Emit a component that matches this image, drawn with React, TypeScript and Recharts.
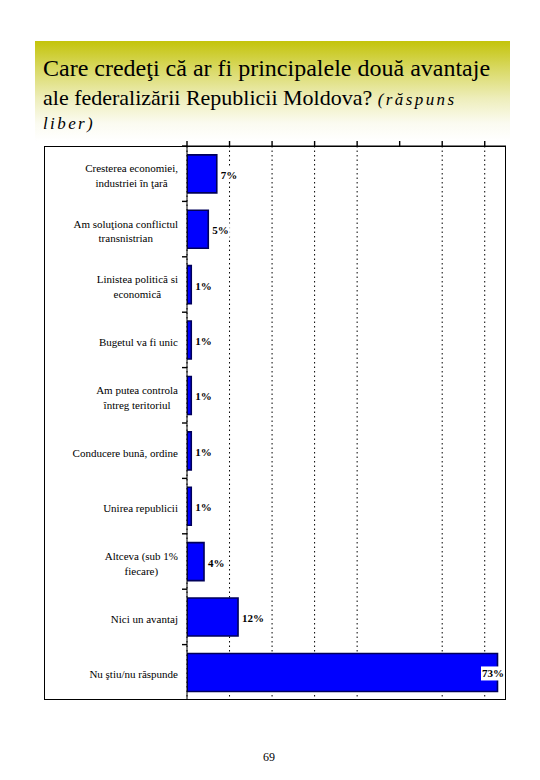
import { Bar, BarChart, CartesianGrid, LabelList, XAxis, YAxis } from 'recharts';

// Answers, top to bottom as in the survey table. "\n" marks the line break.
const CATEGORIES = [
  'Cresterea economiei,\nindustriei în ţară',
  'Am soluţiona conflictul\ntransnistrian',
  'Linistea politică si\neconomică',
  'Bugetul va fi unic',
  'Am putea controla\nîntreg teritoriul',
  'Conducere bună, ordine',
  'Unirea republicii',
  'Altceva (sub 1%\nfiecare)',
  'Nici un avantaj',
  'Nu ştiu/nu răspunde',
];
const VALUES = [7, 5, 1, 1, 1, 1, 1, 4, 12, 73];

const X_DOMAIN = [0, 75];
const X_TICKS = [0, 10, 20, 30, 40, 50, 60, 70];
// the 50% gridline is missing in the original scan
const GRID_TICKS = [10, 20, 30, 40, 60, 70];

const rows = CATEGORIES.map((name, i) => ({ name, value: VALUES[i] }));

const SERIF = '"Liberation Serif", "Times New Roman", serif';
const TICK_FONT = `11px ${SERIF}`;
const LABEL_FONT = `bold 11px ${SERIF}`;

const CHART_W = 462;
const CHART_H = 560;
const TOP_AXIS_H = 6;
const PLOT_RIGHT = CHART_W;
const HALF_BAND = (CHART_H - TOP_AXIS_H) / CATEGORIES.length / 2;

let ctx: CanvasRenderingContext2D | null = null;
function measure(text: string, font: string) {
  if (!ctx) ctx = document.createElement('canvas').getContext('2d');
  if (!ctx) return text.length * 5.5;
  ctx.font = font;
  return ctx.measureText(text).width;
}

function CategoryTick(props: any) {
  const { x, y, payload } = props;
  const lines = String(payload.value).split('\n');
  const blockW = Math.max(...lines.map((l) => measure(l, TICK_FONT)));
  const cx = x - 9 - blockW / 2;
  const lh = 14.5;
  const startY = y + 2 - ((lines.length - 1) * lh) / 2;
  const by = y - HALF_BAND;
  return (
    <g>
      <line x1={x - 5} x2={x} y1={by} y2={by} stroke="#000" strokeWidth={1.4} />
      <text textAnchor="middle" fontFamily={SERIF} fontSize={11} fill="#000">
        {lines.map((l, i) => (
          <tspan key={i} x={cx} y={startY + i * lh} dominantBaseline="central">
            {l}
          </tspan>
        ))}
      </text>
    </g>
  );
}

// top axis: tick marks only, drawn upward from the plot's top edge
function TopTick(props: any) {
  const { x, y } = props;
  const base = y + 6; // y is tickSize + tickMargin above the axis line
  return <line x1={x} x2={x} y1={base} y2={base - 5} stroke="#000" strokeWidth={1.4} />;
}

function ValueLabel(props: any) {
  const vb = props.viewBox ?? props;
  const { x, y, width, height } = vb;
  const text = `${props.value}%`;
  const w = measure(text, LABEL_FONT);
  const tx = Math.min(x + width + 4, PLOT_RIGHT - w - 2);
  const cy = y + height / 2 + 1;
  return (
    <g>
      <rect x={tx - 1} y={cy - 7} width={w + 2} height={14} fill="#fff" />
      <text
        x={tx}
        y={cy}
        dominantBaseline="central"
        fontFamily={SERIF}
        fontSize={11}
        fontWeight="bold"
        fill="#000"
      >
        {text}
      </text>
    </g>
  );
}

export default function App() {
  return (
    <div
      style={{
        position: 'absolute',
        left: 0,
        top: 0,
        width: 540,
        height: 780,
        background: '#fff',
        fontFamily: SERIF,
        color: '#000',
      }}
    >
      <div
        style={{
          position: 'absolute',
          left: 35,
          top: 41,
          width: 475,
          height: 100,
          boxSizing: 'border-box',
          padding: '13px 0 0 8px',
          background:
            'linear-gradient(180deg, #c4c40a 0%, #d9d964 28%, #eeeebc 58%, #fbfbf0 82%, #ffffff 100%)',
        }}
      >
        <div style={{ fontSize: 24, lineHeight: '29px', whiteSpace: 'nowrap' }}>
          Care credeţi că ar fi principalele două avantaje
        </div>
        <div style={{ fontSize: 22, lineHeight: '29px', whiteSpace: 'nowrap' }}>
          ale federalizării Republicii Moldova?{' '}
          <span style={{ fontSize: 17, fontStyle: 'italic', letterSpacing: 2.4 }}>(răspuns</span>
        </div>
        <div style={{ fontSize: 17, lineHeight: '19px', fontStyle: 'italic', letterSpacing: 2.4 }}>
          liber)
        </div>
      </div>

      <div
        style={{
          position: 'absolute',
          left: 44,
          top: 146,
          width: 462,
          height: 554,
          boxSizing: 'border-box',
          border: '1px solid #000',
        }}
      />

      <div style={{ position: 'absolute', left: 44, top: 140, width: CHART_W, height: CHART_H }}>
        <BarChart
          width={CHART_W}
          height={CHART_H}
          data={rows}
          layout="vertical"
          margin={{ top: 0, right: 0, bottom: 0, left: 0 }}
          barCategoryGap="16%"
        >
          <CartesianGrid
            xAxisId="grid"
            horizontal={false}
            stroke="#000"
            strokeDasharray="1.5 3"
          />
          <XAxis
            xAxisId="top"
            type="number"
            orientation="top"
            domain={X_DOMAIN}
            ticks={X_TICKS}
            height={TOP_AXIS_H}
            tick={<TopTick />}
            tickSize={4}
            tickMargin={2}
            tickLine={false}
            axisLine={{ stroke: '#000' }}
            allowDataOverflow
          />
          <XAxis
            xAxisId="grid"
            type="number"
            domain={X_DOMAIN}
            ticks={GRID_TICKS}
            hide
            allowDataOverflow
          />
          <YAxis
            type="category"
            dataKey="name"
            width={143}
            interval={0}
            tickLine={false}
            tickSize={0}
            tickMargin={0}
            axisLine={{ stroke: '#000' }}
            tick={<CategoryTick />}
          />
          <Bar
            xAxisId="top"
            dataKey="value"
            fill="#0000ff"
            stroke="#00005a"
            strokeWidth={1.6}
            isAnimationActive={false}
          >
            <LabelList dataKey="value" content={<ValueLabel />} />
          </Bar>
        </BarChart>
      </div>

      <div
        style={{
          position: 'absolute',
          left: 0,
          top: 749,
          width: 538,
          textAlign: 'center',
          fontSize: 12,
          lineHeight: '16px',
        }}
      >
        69
      </div>
    </div>
  );
}
